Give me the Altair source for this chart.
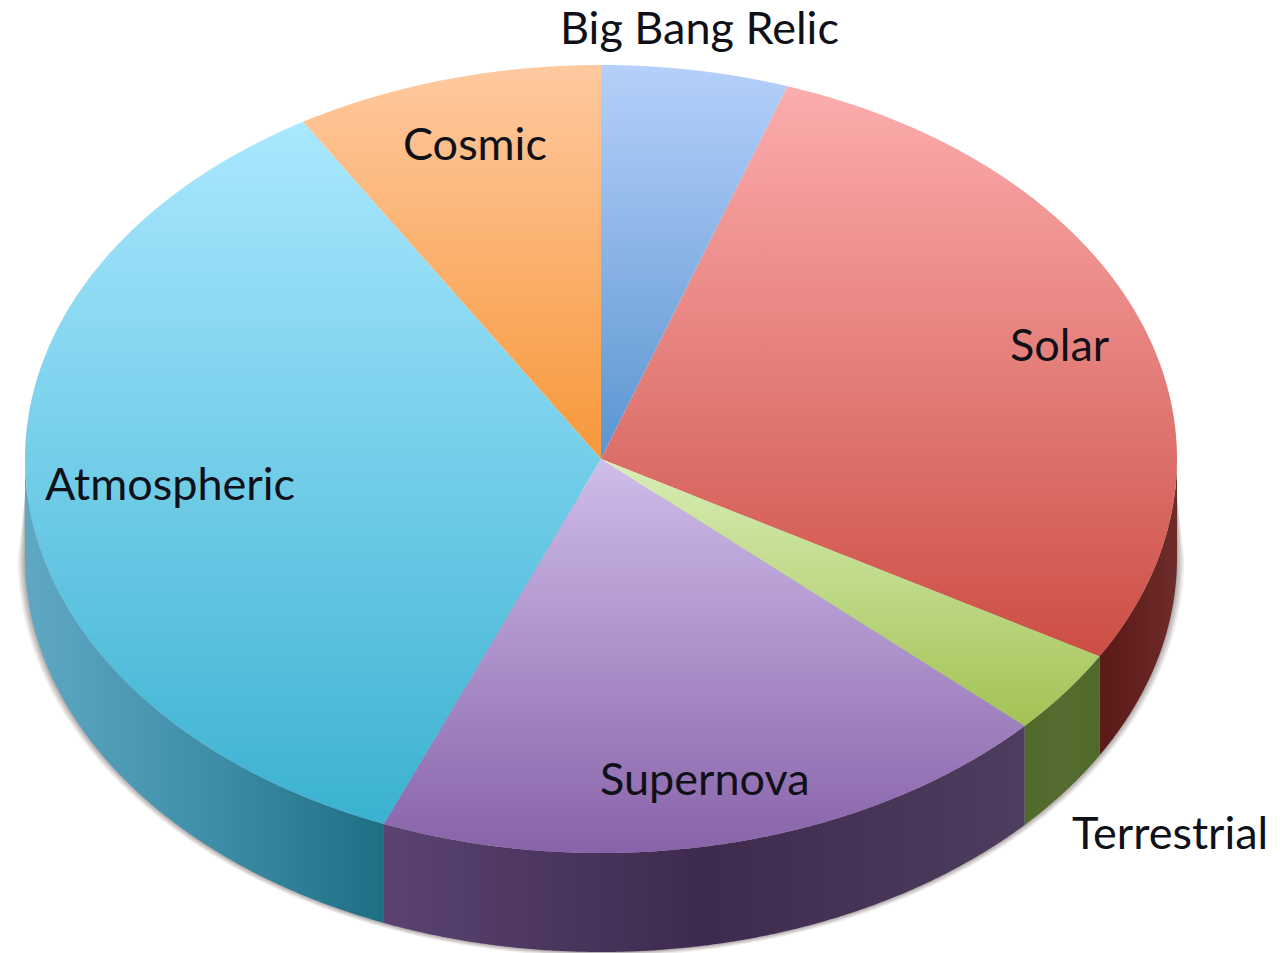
import altair as alt
import numpy as np
import pandas as pd

# Neutrino flux shares, clockwise from twelve o'clock (percent)
categories = ["Big Bang Relic", "Solar", "Terrestrial", "Supernova", "Atmospheric", "Cosmic"]
shares = [5.25, 28.1, 3.5, 19.3, 35.2, 8.65]

# Top-face gradient stops (upper, lower) for each slice
top_colors = [
    ("#B5D0FA", "#5A95D0"),
    ("#FCADAE", "#CC4E44"),
    ("#D8EEB6", "#A3C254"),
    ("#CFBDEA", "#8863A9"),
    ("#AAE8FF", "#3BB2D1"),
    ("#FFC9A0", "#F7983A"),
]

# Rim gradient stops (left to right) for each slice
rim_colors = [
    None,
    ("#5A1A17", "#632120", "#6E2C2A"),
    ("#4F6A28", "#566C32", "#4E6A28"),
    ("#5A4372", "#3E2A4E", "#4E3D5E"),
    ("#5FA8C3", "#3F8FA9", "#1E6F84"),
    None,
]

# Label text, left edge and baseline on the page
label_text = ["Big Bang Relic", "Cosmic", "Solar", "Atmospheric", "Supernova", "Terrestrial"]
label_x = [560, 403, 1010, 45, 600, 1072]
label_y = [44, 160, 361, 500, 795, 849]

W, H = 1285, 953
CX, CY, RX, RY = 601, 459, 576, 394
DEPTH = 99 / RY  # rim height, in units of the vertical radius
HALO_TOP = (CY - 495) / RY  # the halo fades out above this level

x_scale = alt.Scale(domain=[-CX / RX, (W - CX) / RX], nice=False, zero=False)
y_scale = alt.Scale(domain=[(CY - H) / RY, CY / RY], nice=False, zero=False)
X = alt.X("x:Q", scale=x_scale, axis=None)
Y = alt.Y("lo:Q", scale=y_scale, axis=None)
Y2 = alt.Y2("hi:Q")


def arc(t0, t1, n=240):
    t = np.radians(np.linspace(t0, t1, n))
    return np.round(np.sin(t), 9), np.round(np.cos(t), 9)


def sector_table(t0, t1):
    """Lower and upper edge of an elliptical sector for each x."""
    ax, ay = arc(t0, t1)
    px = np.concatenate([[0.0], ax, [0.0]])
    py = np.concatenate([[0.0], ay, [0.0]])
    xs = np.unique(px)
    lo = np.full(xs.shape, np.inf)
    hi = np.full(xs.shape, -np.inf)
    for x1, y1, x2, y2 in zip(px[:-1], py[:-1], px[1:], py[1:]):
        a, b = min(x1, x2), max(x1, x2)
        mask = (xs >= a) & (xs <= b)
        if a == b:
            ys = np.array([min(y1, y2), max(y1, y2)])
            lo[mask] = np.minimum(lo[mask], ys[0])
            hi[mask] = np.maximum(hi[mask], ys[1])
        else:
            ys = y1 + (xs[mask] - x1) * (y2 - y1) / (x2 - x1)
            lo[mask] = np.minimum(lo[mask], ys)
            hi[mask] = np.maximum(hi[mask], ys)
    return pd.DataFrame({"x": xs, "lo": lo, "hi": hi})


def rim_table(t0, t1):
    ax, ay = arc(t0, t1)
    return pd.DataFrame({"x": ax, "lo": ay - DEPTH, "hi": ay}).sort_values("x")


def halo_table(grow):
    """Lower half of the pie's base, widened by grow px and tapered at both shoulders."""
    t = np.radians(np.linspace(90, 270, 300))
    extent = (RX + grow) / RX
    xs = np.concatenate([np.sin(t) * extent, [-1.0, 1.0]])
    xs = np.unique(np.round(xs, 9))
    lo = -np.sqrt(np.clip(1 - (xs / extent) ** 2, 0, 1)) * (RY + grow * 0.6) / RY - DEPTH
    taper = np.clip((np.abs(xs) - 1) / (extent - 1), 0, 1)
    hi = HALO_TOP + (-DEPTH - HALO_TOP) * taper
    return pd.DataFrame({"x": xs, "lo": lo, "hi": hi})


def gradient(stops, x2=0, y2=1):
    offsets = np.linspace(0, 1, len(stops))
    return alt.Gradient(
        gradient="linear", x1=0, y1=0, x2=x2, y2=y2,
        stops=[alt.GradientStop(offset=float(o), color=c) for o, c in zip(offsets, stops)],
    )


edges = np.concatenate([[0.0], np.cumsum(shares)]) / sum(shares) * 360
layers = []

# Soft halo under the rim
for grow in (7, 5, 3.5, 2, 1):
    layers.append(
        alt.Chart(halo_table(grow))
        .mark_area(orient="vertical", color="#6A5F5F", opacity=0.13)
        .encode(x=X, y=Y, y2=Y2)
    )

# Rim pieces for slices that face the viewer
for i, stops in enumerate(rim_colors):
    if stops is None:
        continue
    t0, t1 = max(edges[i], 90), min(edges[i + 1], 270)
    layers.append(
        alt.Chart(rim_table(t0, t1))
        .mark_area(orient="vertical", fill=gradient(stops, x2=1, y2=0))
        .encode(x=X, y=Y, y2=Y2)
    )

# Top face
for i, stops in enumerate(top_colors):
    layers.append(
        alt.Chart(sector_table(edges[i], edges[i + 1]))
        .mark_area(orient="vertical", fill=gradient(stops))
        .encode(x=X, y=Y, y2=Y2)
    )

labels = pd.DataFrame({
    "label": label_text,
    "x": [(v - CX) / RX for v in label_x],
    "y": [(CY - v) / RY for v in label_y],
})
layers.append(
    alt.Chart(labels)
    .mark_text(align="left", baseline="alphabetic", font="Lato", fontSize=45, color="#101018")
    .encode(x=X, y=alt.Y("y:Q", scale=y_scale, axis=None), text="label:N")
)

chart = (
    alt.layer(*layers)
    .properties(width=W, height=H, padding=0, autosize=alt.AutoSizeParams(type="none"))
    .configure_view(strokeWidth=0)
)

chart.save("out.html", embed_options={"renderer": "svg", "actions": False})
